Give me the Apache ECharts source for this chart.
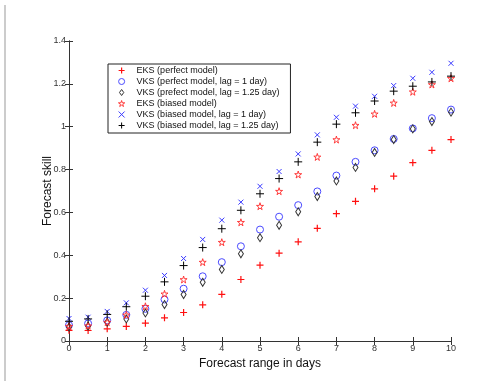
<!DOCTYPE html>
<html>
<head>
<meta charset="utf-8">
<script src="https://cdn.jsdelivr.net/npm/echarts@6/dist/echarts.min.js"></script>
<style>
  html, body { margin: 0; padding: 0; background: #fff; }
  #chart { width: 499px; height: 381px; }
</style>
</head>
<body>
<div id="chart"></div>
<script>
// forecast range, days
const days = [0, 0.5, 1, 1.5, 2, 2.5, 3, 3.5, 4, 4.5, 5, 5.5, 6, 6.5, 7, 7.5, 8, 8.5, 9, 9.5, 10];

const eksPerfect = [0.050, 0.049, 0.057, 0.068, 0.083, 0.108, 0.133, 0.169, 0.218, 0.287, 0.354, 0.410, 0.463, 0.526, 0.594, 0.652, 0.710, 0.769, 0.832, 0.890, 0.940];
const vksPerfect1 = [0.074, 0.082, 0.096, 0.122, 0.150, 0.194, 0.244, 0.302, 0.368, 0.442, 0.520, 0.580, 0.634, 0.698, 0.772, 0.836, 0.890, 0.943, 0.992, 1.040, 1.080];
const vksPerfect125 = [0.065, 0.069, 0.088, 0.103, 0.131, 0.170, 0.217, 0.274, 0.334, 0.407, 0.482, 0.540, 0.603, 0.674, 0.747, 0.810, 0.880, 0.940, 0.990, 1.024, 1.068];
const eksBiased = [0.069, 0.071, 0.088, 0.122, 0.162, 0.220, 0.287, 0.368, 0.461, 0.554, 0.629, 0.699, 0.777, 0.859, 0.940, 1.007, 1.060, 1.111, 1.163, 1.197, 1.226];
const vksBiased1 = [0.105, 0.111, 0.138, 0.178, 0.237, 0.306, 0.385, 0.474, 0.564, 0.648, 0.722, 0.791, 0.873, 0.962, 1.044, 1.096, 1.142, 1.192, 1.226, 1.254, 1.296];
const vksBiased125 = [0.092, 0.103, 0.124, 0.160, 0.209, 0.276, 0.352, 0.436, 0.524, 0.610, 0.687, 0.758, 0.836, 0.928, 1.012, 1.065, 1.120, 1.166, 1.189, 1.209, 1.236];

const seriesNames = [
  'EKS (perfect model)',
  'VKS (perfect model, lag = 1 day)',
  'VKS (prefect model, lag = 1.25 day)',
  'EKS (biased model)',
  'VKS (biased model, lag = 1 day)',
  'VKS (biased model, lag = 1.25 day)'
];

const PLUS = 'path://M0,5L10,5M5,0L5,10';
const CROSS = 'path://M0,0L10,10M10,0L0,10';
const STAR = 'path://M50,0L61,35L98,35L68,57L79,91L50,70L21,91L32,57L2,35L39,35Z';
const DIAMOND = 'path://M5,0L10,7L5,14L0,7Z';
const CIRCLE = 'path://M10,5A5,5,0,1,1,0,5A5,5,0,1,1,10,5Z';

// marker look per series: symbol, size, colour, stroke width
const markers = [
  [PLUS, 7, '#ff1010', 1.2],
  [CIRCLE, 7, '#4a4aff', 1],
  [DIAMOND, [5, 8], '#333', 1],
  [STAR, 7, '#ff2a2a', 0.9],
  [CROSS, 5, '#3a3aff', 1],
  [PLUS, 8, '#000', 1]
];
const values = [eksPerfect, vksPerfect1, vksPerfect125, eksBiased, vksBiased1, vksBiased125];

const chart = echarts.init(document.getElementById('chart'));

function pairs(ys) {
  return days.map((d, i) => [d, ys[i]]);
}

const axisCol = '#333';
const labelStyle = { color: '#333', fontSize: 9, fontFamily: 'Liberation Sans' };

chart.setOption({
  animation: false,
  backgroundColor: '#fff',
  grid: { left: 69, right: 48, top: 41, bottom: 40 },
  legend: {
    orient: 'vertical',
    left: 108,
    top: 64,
    data: seriesNames.map((name, i) => ({
      name,
      icon: markers[i][0],
      itemStyle: { color: 'rgba(0,0,0,0)', borderColor: markers[i][2], borderWidth: markers[i][3] }
    })),
    borderColor: '#222',
    borderWidth: 1,
    padding: [2, 11, 3, 10],
    itemWidth: 20,
    itemHeight: 6,
    itemGap: 2,
    textStyle: { color: '#111', fontSize: 9, lineHeight: 8, fontFamily: 'Liberation Sans' },
    selectedMode: false
  },
  xAxis: [
    {
      type: 'value', min: 0, max: 10, interval: 1,
      name: 'Forecast range in days', nameLocation: 'middle', nameGap: 10,
      nameTextStyle: { color: '#111', fontSize: 12, fontFamily: 'Liberation Sans' },
      axisLine: { lineStyle: { color: axisCol } },
      axisTick: { inside: true, length: 4, lineStyle: { color: axisCol } },
      axisLabel: Object.assign({ margin: 3 }, labelStyle),
      splitLine: { show: false }
    },
    {
      type: 'value', min: 0, max: 10, interval: 1, position: 'top',
      axisLine: { lineStyle: { color: axisCol } },
      axisTick: { inside: true, length: 4, lineStyle: { color: axisCol } },
      axisLabel: { show: false },
      splitLine: { show: false }
    }
  ],
  yAxis: [
    {
      type: 'value', min: 0, max: 1.4, interval: 0.2,
      name: 'Forecast skill', nameLocation: 'middle', nameGap: 15,
      nameMoveOverlap: false,
      nameTextStyle: { color: '#111', fontSize: 12, fontFamily: 'Liberation Sans' },
      axisLine: { lineStyle: { color: axisCol } },
      axisTick: { inside: true, length: 4, lineStyle: { color: axisCol } },
      axisLabel: Object.assign({ margin: 3 }, labelStyle),
      splitLine: { show: false }
    },
    {
      type: 'value', min: 0, max: 1.4, interval: 0.2, position: 'right',
      axisLine: { lineStyle: { color: axisCol } },
      axisTick: { inside: true, length: 4, lineStyle: { color: axisCol } },
      axisLabel: { show: false },
      splitLine: { show: false }
    }
  ],
  graphic: [
    {
      type: 'line',
      shape: { x1: 5, y1: 5, x2: 5, y2: 381 },
      style: { stroke: '#999', lineWidth: 1 }
    }
  ],
  series: seriesNames.map((name, i) => ({
    name,
    type: 'scatter',
    data: pairs(values[i]),
    symbol: markers[i][0],
    symbolSize: markers[i][1],
    itemStyle: { color: 'rgba(0,0,0,0)', borderColor: markers[i][2], borderWidth: markers[i][3], opacity: 1 },
    emphasis: { disabled: true },
    z: 3
  }))
});
</script>
</body>
</html>
